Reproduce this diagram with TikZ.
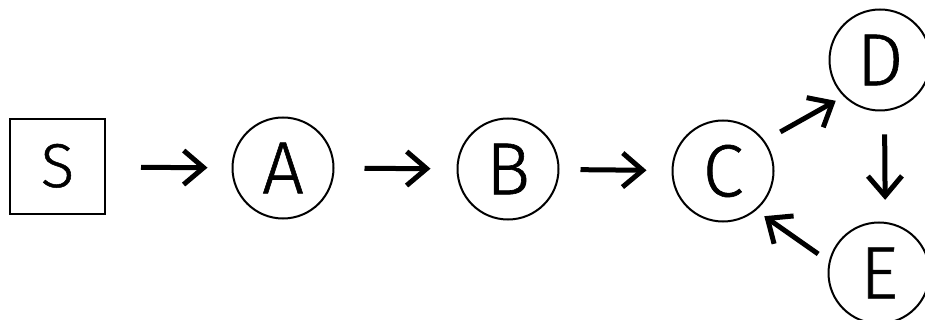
\documentclass[tikz,border=0pt]{standalone}
\usepackage{fontspec}
\setmainfont{Fira Sans Light}[FakeBold=0.8]
\usetikzlibrary{arrows.meta}
\begin{document}
\begin{tikzpicture}[x=1pt,y=-1pt,
  st/.style={draw, line width=2pt, circle, minimum size=101pt, inner sep=0pt,
    font=\fontsize{74}{74}\selectfont, text=black},
  sq/.style={draw, line width=2pt, rectangle, minimum size=95pt, inner sep=0pt,
    font=\fontsize{62}{62}\selectfont},
  ar/.style={line width=5pt, -{Straight Barb[length=20pt,width=34pt]}}]
\useasboundingbox (0,0) rectangle (925,320);
\node[sq] (S) at (57.5,167) {\raisebox{3pt}{S}};
\node[st] (A) at (283,168) {A};
\node[st] (B) at (508,169) {B};
\node[st] (C) at (723,171) {C};
\node[st] (D) at (880,60) {D};
\node[st] (E) at (879,273) {E};
\draw[ar, shorten <=35pt, shorten >=24pt] (S) -- (A);
\draw[ar, shorten <=30pt, shorten >=26pt] (A) -- (B);
\draw[ar, shorten <=21pt, shorten >=25pt] (B) -- (C);
\draw[ar, shorten <=18pt, shorten >=9pt] (C.36) -- (D.225);
\draw[ar, shorten <=23pt, shorten >=22pt] (D.-85) -- (E.83);
\draw[ar, shorten <=13pt, shorten >=10pt] (E.167) -- (C.-50);
\end{tikzpicture}
\end{document}
